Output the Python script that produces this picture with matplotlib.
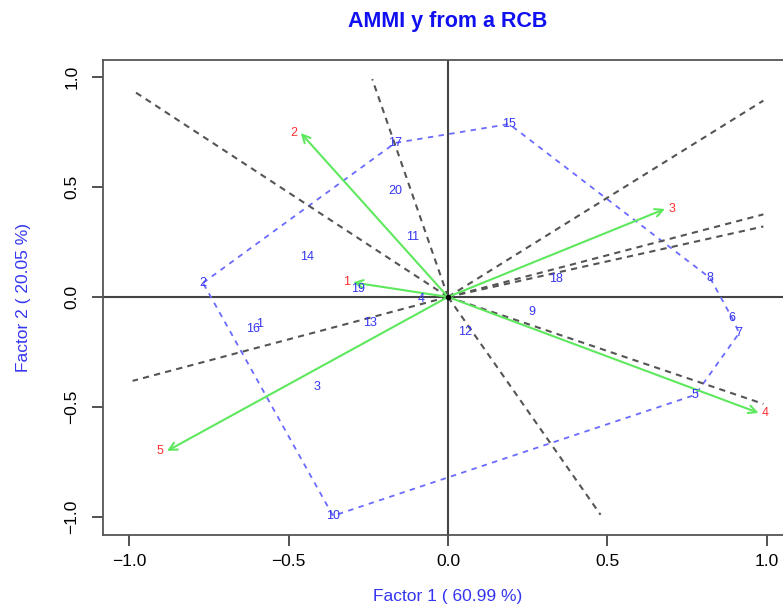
import matplotlib
matplotlib.use("Agg")
import matplotlib.pyplot as plt
import numpy as np

plt.rcParams.update({
    "font.family": ["Liberation Sans", "DejaVu Sans"],
})

## parameters
fs_title = 15.5
fs_lab = 12.5
fs_tick = 12.5
fs_pt = 9

col_gen = "#3535f0"
col_env = "#ff3030"
col_arrow = "#5ee85e"
col_hull = "#6a6aff"
col_sect = "#555555"
col_axis = "#444444"

lw0 = 1.5

##--------------- data ---------------##

# genotype scores (Factor 1, Factor 2)
gen_lab = [str(i) for i in range(1, 21)]
gen_x = [-0.590, -0.769, -0.411, -0.085, 0.776, 0.892, 0.914, 0.823, 0.263, -0.361,
         -0.110, 0.053, -0.245, -0.443, 0.192, -0.612, -0.166, 0.339, -0.283, -0.166]
gen_y = [-0.122, 0.064, -0.409, -0.009, -0.445, -0.096, -0.164, 0.086, -0.068, -0.995,
         0.273, -0.159, -0.118, 0.182, 0.786, -0.145, 0.700, 0.082, 0.036, 0.482]

# environment scores
env_lab = ["1", "2", "3", "4", "5"]
env_x = [-0.298, -0.462, 0.681, 0.975, -0.882]
env_y = [0.066, 0.745, 0.400, -0.527, -0.700]

# convex hull of genotypes (labels, in order)
hull = ["2", "17", "15", "8", "6", "7", "5", "10"]

x_lab = "Factor 1 ( 60.99 %)"
y_lab = "Factor 2 ( 20.05 %)"

##--------------- plot ---------------##

fig = plt.figure(figsize=(7.83, 6.07), dpi=100)
ax = fig.add_axes([103 / 783, 1 - 535 / 607, 690 / 783, 475 / 607])

ax.axhline(0, color=col_axis, lw=lw0, zorder=1)
ax.axvline(0, color=col_axis, lw=lw0, zorder=1)

# hull polygon
gx = np.array(gen_x)
gy = np.array(gen_y)
idx = [gen_lab.index(h) for h in hull]
hx = np.append(gx[idx], gx[idx[0]])
hy = np.append(gy[idx], gy[idx[0]])
ax.plot(hx, hy, color=col_hull, lw=1.3, ls=(0, (3, 3)), zorder=2)

# sector lines, perpendicular to the hull edges
for i in range(len(idx)):
    dx = hx[i + 1] - hx[i]
    dy = hy[i + 1] - hy[i]
    px, py = dy, -dx
    mx = (hx[i + 1] + hx[i]) / 2
    my = (hy[i + 1] + hy[i]) / 2
    if px * mx + py * my < 0:
        px, py = -px, -py
    s = 0.99 / max(abs(px), abs(py))
    ax.plot([0, px * s], [0, py * s], color=col_sect, lw=lw0, ls=(0, (3, 2.5)), zorder=2)

# environment arrows
for lab, x, y in zip(env_lab, env_x, env_y):
    ax.annotate("", xy=(x, y), xytext=(0, 0),
                arrowprops=dict(arrowstyle="->", color=col_arrow, lw=lw0,
                                mutation_scale=14, shrinkA=0, shrinkB=0), zorder=3)
    off = 5 if x > 0 else -5
    ax.annotate(lab, xy=(x, y), xytext=(off, 0), textcoords="offset points",
                ha="center", va="center", color=col_env, fontsize=fs_pt, zorder=4)

ax.plot(0, 0, "o", color="black", ms=3, zorder=4)

# genotype labels
for lab, x, y in zip(gen_lab, gen_x, gen_y):
    ax.text(x, y, lab, ha="center", va="center", color=col_gen, fontsize=fs_pt, zorder=4)

ax.set_xlim(-1.083, 1.083)
ax.set_ylim(-1.082, 1.077)
ax.set_xticks([-1.0, -0.5, 0.0, 0.5, 1.0])
ax.set_yticks([-1.0, -0.5, 0.0, 0.5, 1.0])
ax.set_xticklabels(["\u22121.0", "\u22120.5", "0.0", "0.5", "1.0"])
ax.set_yticklabels(["\u22121.0", "\u22120.5", "0.0", "0.5", "1.0"], rotation=90, va="center")
ax.tick_params(axis="both", labelsize=fs_tick, length=8, width=1.2, color="#333333")
ax.tick_params(axis="x", pad=6)
ax.tick_params(axis="y", pad=9)
for sp in ax.spines.values():
    sp.set_color("#555555")
    sp.set_linewidth(1.3)

ax.set_xlabel(x_lab, fontsize=fs_lab, color=col_gen, labelpad=14)
ax.set_ylabel(y_lab, fontsize=fs_lab, color=col_gen, labelpad=24)
fig.text(448 / 783, 1 - 22 / 607, "AMMI y from a RCB", ha="center", va="center",
         fontsize=fs_title, fontweight="bold", color="#1010f0")

fig.savefig("out.png", dpi=100)
